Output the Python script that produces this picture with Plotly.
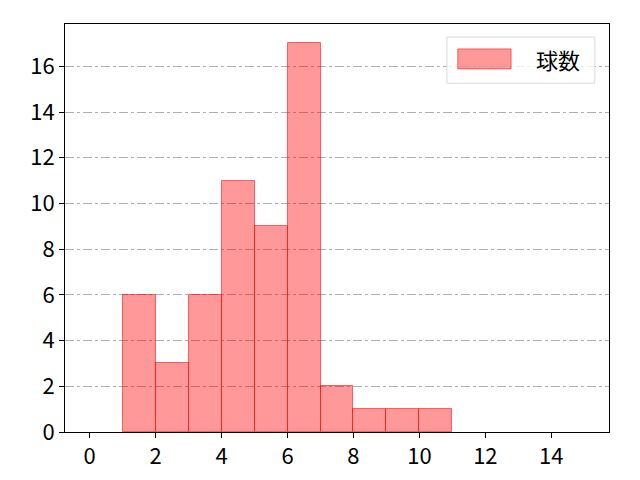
import plotly.graph_objects as go

# histogram bins (left edges) and counts
bin_edges = [0, 1, 2, 3, 4, 5, 6, 7, 8, 9, 10, 11, 12, 13, 14]
counts = [0, 6, 3, 6, 11, 9, 17, 2, 1, 1, 1, 0, 0, 0, 0]
series_name = "球数"

x_ticks = [0, 2, 4, 6, 8, 10, 12, 14]
y_ticks = [0, 2, 4, 6, 8, 10, 12, 14, 16]

centers = [e + 0.5 for e in bin_edges]
edge_w = [1 if c > 0 else 0 for c in counts]

fill = "rgba(255,0,0,0.4)"
edge = "rgba(255,0,0,0.55)"

fig = go.Figure(
    data=[
        go.Bar(
            x=centers, y=counts, width=1, name=series_name,
            marker=dict(color=fill, line=dict(color=edge, width=edge_w)),
            showlegend=False,
        )
    ]
)

axis_common = dict(
    showline=True, linecolor="black", linewidth=1, mirror=True,
    ticks="outside", ticklen=5, tickcolor="black", tickwidth=1,
    tickfont=dict(size=22, color="black"), zeroline=False, automargin=False,
)

fig.update_layout(
    width=640, height=480,
    paper_bgcolor="white", plot_bgcolor="white",
    margin=dict(l=65, r=31, t=24, b=48),
    font=dict(family="Noto Sans CJK JP, DejaVu Sans", color="black"),
    bargap=0,
    xaxis=dict(range=[-0.75, 15.75], tickvals=x_ticks, showgrid=False, **axis_common),
    yaxis=dict(range=[0, 17.85], tickvals=y_ticks, showgrid=True,
               gridcolor="#b0b0b0", griddash="dashdot", gridwidth=1, **axis_common),
)

# legend drawn by hand to get the wide matplotlib-style patch
fig.add_shape(type="rect", xref="paper", yref="paper", x0=0.702, x1=0.974, y0=0.855, y1=0.968,
              line=dict(color="#d9d9d9", width=1), fillcolor="rgba(255,255,255,0.8)")
fig.add_shape(type="rect", xref="paper", yref="paper", x0=0.722, x1=0.820, y0=0.890, y1=0.939,
              line=dict(color=edge, width=1), fillcolor=fill)
fig.add_annotation(xref="paper", yref="paper", x=0.906, y=0.914, text=series_name,
                   xanchor="center", yanchor="middle",
                   showarrow=False, font=dict(size=22, color="black"))

fig.write_html("out.html", config={"displayModeBar": False},
               post_script="document.body.style.margin='0';")
